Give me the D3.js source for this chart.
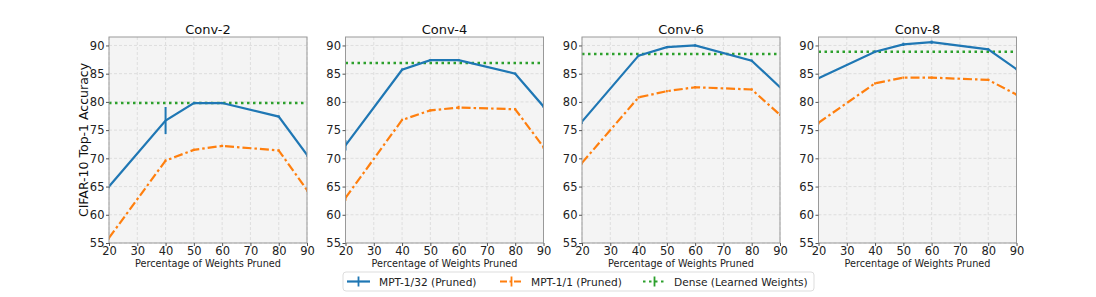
<!DOCTYPE html>
<html><head><meta charset="utf-8">
<script src="https://cdn.jsdelivr.net/npm/d3@7"></script>
<style>body{margin:0;background:#fff;font-family:"DejaVu Sans",sans-serif;}</style>
</head><body><svg id="c" width="1096" height="297" font-family="DejaVu Sans"></svg>
<script>
const panels = ["Conv-2","Conv-4","Conv-6","Conv-8"];
const xVals = [20,40,50,60,80,90];
const mpt32 = [
  [65.0,76.7,79.8,79.8,77.4,70.6],
  [72.3,85.7,87.4,87.4,85.0,79.2],
  [76.5,88.2,89.7,90.0,87.3,82.6],
  [84.2,88.9,90.2,90.6,89.3,85.8]
];
const mpt32Err = [
  [0.3,2.4,0.2,0.2,0.2,0.3],
  [0.9,0.2,0.2,0.2,0.2,0.3],
  [0.4,0.2,0.2,0.2,0.2,0.2],
  [0.2,0.2,0.3,0.3,0.2,0.2]
];
const mpt1 = [
  [55.9,69.6,71.5,72.2,71.4,64.4],
  [63.0,76.8,78.5,79.0,78.7,72.0],
  [69.2,80.8,81.9,82.6,82.2,77.7],
  [76.3,83.3,84.3,84.3,83.9,81.3]
];
const mpt1Err = [
  [0.3,0.2,0.2,0.2,0.2,0.3],
  [0.5,0.2,0.2,0.3,0.2,0.3],
  [0.3,0.2,0.2,0.2,0.2,0.2],
  [0.3,0.2,0.2,0.2,0.2,0.2]
];
const dense = [79.8,86.9,88.5,88.9];
const xTicks = [20,30,40,50,60,70,80,90];
const yTicks = [55,60,65,70,75,80,85,90];
const legendLabels = ["MPT-1/32 (Pruned)","MPT-1/1 (Pruned)","Dense (Learned Weights)"];
const colors = ["#1f77b4","#ff7f0e","#2ca02c"];

const svg = d3.select("#c");
const left0 = 109, pw = 198, gap = 236.5, topY = 37, ph = 206;

panels.forEach((name, i) => {
  const x0 = left0 + i*gap;
  const g = svg.append("g").attr("transform", `translate(${x0},${topY})`);
  const x = d3.scaleLinear().domain([20,90]).range([0,pw]);
  const y = d3.scaleLinear().domain([55,91.5]).range([ph,0]);
  g.append("rect").attr("width",pw).attr("height",ph).attr("fill","#f4f4f4");
  g.selectAll(".gx").data(xTicks).enter().append("line")
    .attr("x1",d=>x(d)).attr("x2",d=>x(d)).attr("y1",0).attr("y2",ph)
    .attr("stroke","#d8d8d8").attr("stroke-width",0.8).attr("stroke-dasharray","3,2");
  g.selectAll(".gy").data(yTicks).enter().append("line")
    .attr("y1",d=>y(d)).attr("y2",d=>y(d)).attr("x1",0).attr("x2",pw)
    .attr("stroke","#d8d8d8").attr("stroke-width",0.8).attr("stroke-dasharray","3,2");
  const clip = "clip"+i;
  g.append("clipPath").attr("id",clip).append("rect").attr("width",pw).attr("height",ph);
  const pg = g.append("g").attr("clip-path",`url(#${clip})`);
  const line = d3.line().x((d,j)=>x(xVals[j])).y(d=>y(d));
  pg.append("line").attr("x1",0).attr("x2",pw).attr("y1",y(dense[i])).attr("y2",y(dense[i]))
    .attr("stroke",colors[2]).attr("stroke-width",2.5).attr("stroke-dasharray","2.5,3.5");
  pg.append("path").datum(mpt1[i]).attr("d",line).attr("fill","none")
    .attr("stroke",colors[1]).attr("stroke-width",2.2).attr("stroke-dasharray","9,3,2.5,3");
  mpt1[i].forEach((v,j)=>{
    pg.append("line").attr("x1",x(xVals[j])).attr("x2",x(xVals[j]))
      .attr("y1",y(v-mpt1Err[i][j])).attr("y2",y(v+mpt1Err[i][j]))
      .attr("stroke",colors[1]).attr("stroke-width",2);
  });
  pg.append("path").datum(mpt32[i]).attr("d",line).attr("fill","none")
    .attr("stroke",colors[0]).attr("stroke-width",2.2);
  mpt32[i].forEach((v,j)=>{
    pg.append("line").attr("x1",x(xVals[j])).attr("x2",x(xVals[j]))
      .attr("y1",y(v-mpt32Err[i][j])).attr("y2",y(v+mpt32Err[i][j]))
      .attr("stroke",colors[0]).attr("stroke-width",2);
  });
  g.append("rect").attr("width",pw).attr("height",ph).attr("fill","none").attr("stroke","#999").attr("stroke-width",1);
  const ax = g.append("g").attr("transform",`translate(0,${ph})`)
    .call(d3.axisBottom(x).tickValues(xTicks).tickSize(3).tickPadding(1));
  const ay = g.append("g").call(d3.axisLeft(y).tickValues(yTicks).tickSize(3).tickPadding(1.5));
  [ax,ay].forEach(a=>{
    a.select(".domain").remove();
    a.selectAll("line").attr("stroke","#555");
    a.selectAll("text").attr("font-family","DejaVu Sans").attr("font-size",11.5).attr("fill","#222");
  });
  g.append("text").attr("x",pw/2).attr("y",-3).attr("text-anchor","middle")
    .attr("font-size",13).attr("fill","#111").text(name);
  g.append("text").attr("x",pw/2).attr("y",ph+24).attr("text-anchor","middle")
    .attr("font-size",9.7).attr("fill","#222").text("Percentage of Weights Pruned");
});

svg.append("text").attr("transform",`translate(88,${topY+ph/2}) rotate(-90)`)
  .attr("text-anchor","middle").attr("font-size",12.5).attr("fill","#111").text("CIFAR-10 Top-1 Accuracy");

const lg = svg.append("g").attr("transform","translate(343,272)");
lg.append("rect").attr("width",471).attr("height",19).attr("rx",3).attr("fill","#fff")
  .attr("stroke","#ddd").attr("stroke-width",1);
const items = [{x:4,tx:36},{x:157,tx:188},{x:300,tx:331}];
const dashes = [null,"7,2.5,2,2.5","2.5,3.5"];
items.forEach((it,k)=>{
  const cy = 9.5;
  lg.append("line").attr("x1",it.x).attr("x2",it.x+23).attr("y1",cy).attr("y2",cy)
    .attr("stroke",colors[k]).attr("stroke-width",2.2).attr("stroke-dasharray",dashes[k]);
  lg.append("line").attr("x1",it.x+11.5).attr("x2",it.x+11.5).attr("y1",cy-5).attr("y2",cy+5)
    .attr("stroke",colors[k]).attr("stroke-width",1.8);
  lg.append("text").attr("x",it.tx).attr("y",cy+4).attr("font-size",10.6).attr("fill","#222").text(legendLabels[k]);
});
</script></body></html>
